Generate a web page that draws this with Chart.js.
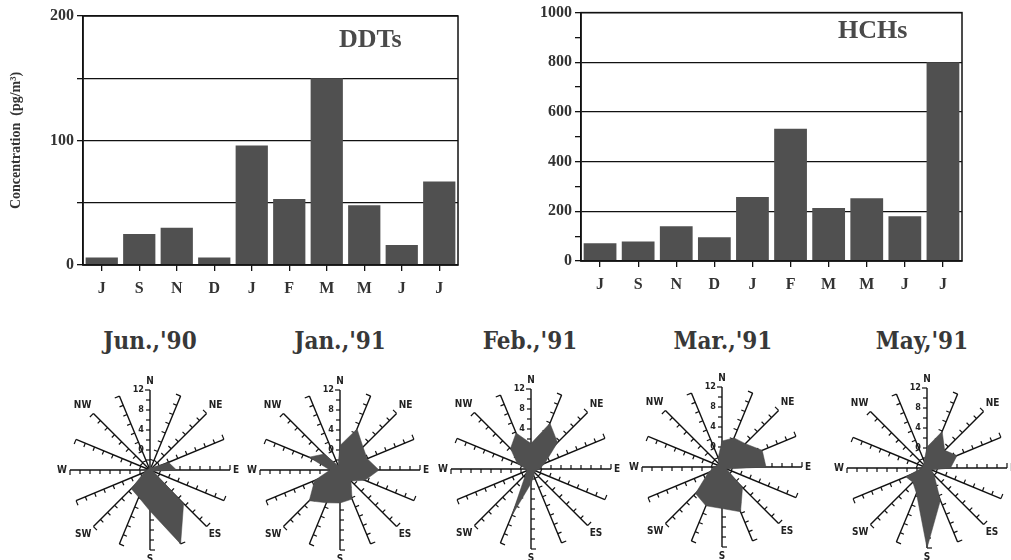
<!DOCTYPE html>
<html>
<head>
<meta charset="utf-8">
<script src="https://cdn.jsdelivr.net/npm/chart.js@4.4.1/dist/chart.umd.min.js"></script>
<style>
  body { margin: 0; background: #fff; width: 1011px; height: 560px; position: relative; overflow: hidden; }
  .box { position: absolute; }
  .ttl { position: absolute; font-family: "Liberation Serif", serif; font-weight: bold; font-size: 26px; color: #4a4a4a; white-space: nowrap; }
  .mon { position: absolute; font-family: "DejaVu Serif Condensed", "DejaVu Serif", serif; font-weight: bold; font-size: 24px; color: #383838; white-space: nowrap; transform: translateX(-50%); }
</style>
</head>
<body>
<div class="box" style="left:0;top:0;width:470px;height:300px"><canvas id="ddt"></canvas></div>
<div class="box" style="left:520px;top:0;width:491px;height:300px"><canvas id="hch"></canvas></div>
<div class="ttl" style="left:339px;top:24px">DDTs</div>
<div class="ttl" style="left:838px;top:15px">HCHs</div>

<div class="mon" style="left:150px;top:326px">Jun.,'90</div>
<div class="mon" style="left:340px;top:326px">Jan.,'91</div>
<div class="mon" style="left:530px;top:326px">Feb.,'91</div>
<div class="mon" style="left:723px;top:326px">Mar.,'91</div>
<div class="mon" style="left:922px;top:326px">May,'91</div>

<div class="box" style="left:49px;top:370px;width:200px;height:200px"><canvas id="r1"></canvas></div>
<div class="box" style="left:239px;top:370px;width:200px;height:200px"><canvas id="r2"></canvas></div>
<div class="box" style="left:430px;top:369px;width:200px;height:200px"><canvas id="r3"></canvas></div>
<div class="box" style="left:621px;top:367px;width:200px;height:200px"><canvas id="r4"></canvas></div>
<div class="box" style="left:826px;top:368px;width:200px;height:200px"><canvas id="r5"></canvas></div>

<script>
// months Jun '90 .. Jul '91 (as printed on the axis)
const months = ['J', 'S', 'N', 'D', 'J', 'F', 'M', 'M', 'J', 'J'];
const ddts = [6, 25, 30, 6, 96, 53, 150, 48, 16, 67];
const hchs = [71, 78, 140, 96, 258, 532, 213, 253, 180, 800];

// wind roses, 16 directions clockwise from N
const dirs = ['N', 'NNE', 'NE', 'ENE', 'E', 'ESE', 'SE', 'SSE', 'S', 'SSW', 'SW', 'WSW', 'W', 'WNW', 'NW', 'NNW'];
const dirLabels = ['N', '', 'NE', '', 'E', '', 'ES', '', 'S', '', 'SW', '', 'W', '', 'NW', ''];
const ringLabels = [0, 4, 8, 12];
const jun90 = [-3.3, -3.3, -3.3, 0, 1.3, -3.3, 5.5, 12, 4.2, 1.9, 1.3, -2.7, -3.3, -3.6, -3.6, -3.6];
const jan91 = [0.9, 4.9, 2.5, 1.9, 3.8, 1.4, -0.9, 2.3, 2.6, 3.1, 4.7, 1.5, -2, 2.7, 0.5, -3];
const feb91 = [1.1, 5.9, 3.5, -1, -2.3, -3, -3, -2.5, -1.1, 6.3, -2.5, -3, -3, -1, 1.8, 3.8];
const mar91 = [1.2, 2.3, 2.6, 4.7, 4.8, -3, 1.8, 5.7, 4.3, 4.4, 3.5, -1, -2.5, -3, -3, -2];
const may91 = [0.2, 3.9, 1, 2.5, 0.7, -3, -2, 3, 12, 1.5, 0, 0.6, -3, -3, -3, -2.5];

const serif = 'Liberation Serif';

// closes the plot box on the right side
const frame = {
    id: 'frame',
    afterDraw(chart) {
        const a = chart.chartArea, ctx = chart.ctx;
        ctx.save();
        ctx.strokeStyle = '#111';
        ctx.lineWidth = 1.5;
        ctx.strokeRect(a.left, a.top, a.right - a.left, a.bottom - a.top);
        ctx.restore();
    }
};

function barChart(id, values, step, labelEvery, max, yWidth, xHeight, pad, yTitle) {
    new Chart(document.getElementById(id), {
        type: 'bar',
        data: {
            labels: months,
            datasets: [{ data: values, backgroundColor: '#505050', borderWidth: 0, barPercentage: 1, categoryPercentage: 0.86 }]
        },
        options: {
            responsive: true,
            maintainAspectRatio: false,
            animation: false,
            layout: { padding: pad },
            plugins: { legend: { display: false }, tooltip: { enabled: false } },
            scales: {
                x: {
                    grid: { drawOnChartArea: false, offset: false, tickLength: 6, color: '#111', lineWidth: 1.3 },
                    border: { color: '#111', width: 1.5 },
                    ticks: { color: '#333', padding: 8, font: { family: serif, weight: 'bold', size: 16 } },
                    afterFit(s) { s.height = xHeight; }
                },
                y: {
                    min: 0, max: max,
                    ticks: {
                        stepSize: step, color: '#333', padding: 3,
                        font: { family: serif, weight: 'bold', size: 16 },
                        callback: v => (v % labelEvery === 0 ? v : '')
                    },
                    grid: {
                        tickLength: 6, lineWidth: 1.3, tickColor: '#111',
                        color: c => (c.tick.value % labelEvery === 0 || id === 'ddt') ? '#111' : 'rgba(0,0,0,0)'
                    },
                    border: { color: '#111', width: 1.5 },
                    title: yTitle ? { display: true, text: yTitle, color: '#333', font: { family: serif, weight: 'bold', size: 14 }, padding: { top: 8 } } : { display: false },
                    afterFit(s) { s.width = yWidth; }
                }
            }
        },
        plugins: [frame]
    });
}

barChart('ddt', ddts, 50, 100, 200, 83, 35, { top: 16, right: 12 }, 'Concentration  (pg/m\u00b3)');
barChart('hch', hchs, 100, 200, 1000, 61, 39, { top: 10, right: 49 }, null);

// tick marks on each spoke and ring labels beside the N spoke
const spokeTicks = {
    id: 'spokeTicks',
    beforeDatasetsDraw(chart) {
        const r = chart.scales.r, ctx = chart.ctx;
        ctx.save();
        ctx.strokeStyle = '#111';
        ctx.lineWidth = 1.2;
        for (let i = 0; i < dirs.length; i++) {
            const c = r.getPointPositionForValue(i, r.min);
            for (let v = r.min + 2; v <= r.max; v += 2) {
                const p = r.getPointPositionForValue(i, v);
                const dx = p.x - c.x, dy = p.y - c.y, len = Math.hypot(dx, dy);
                const lx = dy / len, ly = -dx / len;
                const t = v === r.max ? 5 : 4;
                ctx.beginPath();
                ctx.moveTo(p.x, p.y);
                ctx.lineTo(p.x + lx * t, p.y + ly * t);
                ctx.stroke();
            }
        }
        ctx.fillStyle = '#222';
        ctx.font = 'bold 9px "DejaVu Sans Condensed"';
        ctx.textAlign = 'right';
        ctx.textBaseline = 'middle';
        ringLabels.forEach(v => {
            const p = r.getPointPositionForValue(0, v);
            ctx.fillText(String(v), p.x - 6, p.y);
        });
        ctx.restore();
    }
};

function rose(id, values) {
    new Chart(document.getElementById(id), {
        type: 'radar',
        data: {
            labels: dirs,
            datasets: [{ data: values, fill: 'start', backgroundColor: '#505050', borderColor: '#444', borderWidth: 0.5, pointRadius: 0 }]
        },
        options: {
            responsive: true,
            maintainAspectRatio: false,
            animation: false,
            layout: { padding: 5 },
            plugins: { legend: { display: false }, tooltip: { enabled: false } },
            scales: {
                r: {
                    min: -4, max: 12,
                    ticks: { display: false, stepSize: 2 },
                    grid: { display: false },
                    angleLines: { color: '#111', lineWidth: 1.4 },
                    pointLabels: {
                        color: '#222', padding: 3,
                        font: { family: 'DejaVu Sans Condensed', weight: 'bold', size: 10 },
                        callback: (l, i) => dirLabels[i]
                    }
                }
            }
        },
        plugins: [spokeTicks]
    });
}

rose('r1', jun90);
rose('r2', jan91);
rose('r3', feb91);
rose('r4', mar91);
rose('r5', may91);
</script>
</body>
</html>
